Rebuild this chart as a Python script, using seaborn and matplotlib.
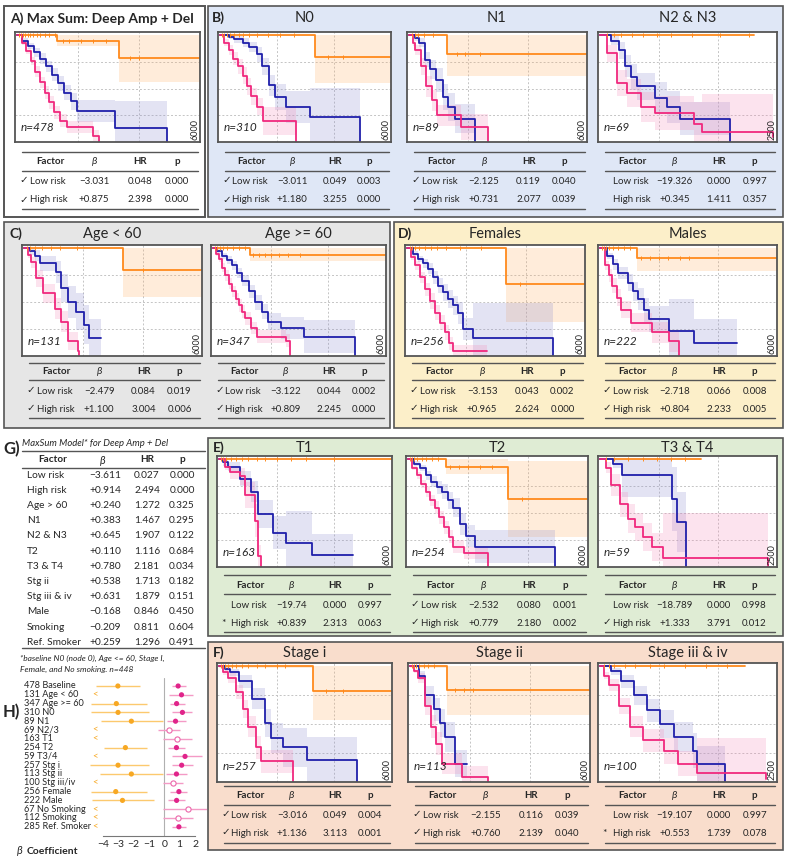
import numpy as np
import pandas as pd
import matplotlib
matplotlib.use('Agg')
import matplotlib.pyplot as plt
from matplotlib.patches import Rectangle
import seaborn as sns

sns.set_style('white')
plt.rcParams['font.family'] = ['Lato', 'DejaVu Sans']

W, H = 790, 865

# Kaplan-Meier curves: [time (days), survival, CI half width]
A_low = [[0, 1.0, 0.01], [1300, 0.95, 0.05], [3350, 0.79, 0.23], [6000, 0.79, 0.23]]
A_mid = [[0, 1.0, 0.0], [150, 0.95, 0.02], [350, 0.90, 0.03], [550, 0.84, 0.04], [750, 0.78, 0.05],
         [950, 0.71, 0.05], [1150, 0.63, 0.06], [1350, 0.55, 0.07], [1550, 0.46, 0.07],
         [1750, 0.38, 0.08], [1950, 0.29, 0.1], [3200, 0.13, 0.25], [4920, 0.0, 0.0]]
A_high = [[0, 1.0, 0.0], [150, 0.93, 0.02], [300, 0.85, 0.03], [450, 0.76, 0.04], [600, 0.66, 0.05],
          [750, 0.56, 0.05], [900, 0.46, 0.06], [1050, 0.37, 0.06], [1200, 0.28, 0.06],
          [1400, 0.20, 0.06], [1650, 0.14, 0.06], [2490, 0.06, 0.05], [2700, 0.0, 0.0]]
A_cens = [60, 120, 180, 260, 340, 420, 520, 640, 760, 900, 1050, 1250, 1500, 1700, 2100, 2500, 2900, 3700, 4000]

N0_low = [[0, 1.0, 0.01], [3340, 0.80, 0.25], [6000, 0.80, 0.25]]
N0_mid = [[0, 1.0, 0.0], [300, 0.98, 0.02], [500, 0.96, 0.03], [800, 0.93, 0.04], [1000, 0.89, 0.05],
          [1280, 0.82, 0.07], [1470, 0.71, 0.08], [1730, 0.53, 0.1], [1930, 0.42, 0.12],
          [2320, 0.33, 0.15], [3170, 0.23, 0.28], [4900, 0.0, 0.0]]
N0_high = [[0, 1.0, 0.0], [150, 0.93, 0.03], [300, 0.86, 0.05], [450, 0.78, 0.06], [630, 0.71, 0.07],
           [800, 0.62, 0.08], [950, 0.52, 0.08], [1100, 0.43, 0.08], [1280, 0.33, 0.08],
           [1510, 0.20, 0.13], [2650, 0.0, 0.0]]
N0_cens = [80, 150, 250, 350, 500, 650, 800, 1000, 1300, 1700, 2100, 2600, 3800, 4300]

N1_low = [[0, 1.0, 0.01], [1280, 0.82, 0.2], [6000, 0.82, 0.2]]
N1_mid = [[0, 1.0, 0.0], [200, 0.97, 0.02], [330, 0.93, 0.04], [520, 0.77, 0.07], [700, 0.68, 0.09],
          [890, 0.58, 0.11], [1130, 0.42, 0.12], [1320, 0.33, 0.13], [1560, 0.22, 0.14], [2220, 0.0, 0.0]]
N1_high = [[0, 1.0, 0.0], [120, 0.93, 0.03], [210, 0.86, 0.05], [400, 0.71, 0.08], [580, 0.52, 0.1],
           [760, 0.39, 0.1], [950, 0.25, 0.1], [1750, 0.14, 0.12], [2670, 0.0, 0.0]]
N1_cens = [100, 200, 300, 500, 800, 1600, 1900, 2400]

N23_low = [[0, 1.0, 0.0], [2170, 1.0, 0.0]]
N23_mid = [[0, 1.0, 0.0], [160, 0.95, 0.04], [270, 0.86, 0.08], [350, 0.71, 0.1], [435, 0.61, 0.12],
           [520, 0.52, 0.13], [770, 0.41, 0.15], [950, 0.33, 0.15], [1130, 0.22, 0.15], [1830, 0.0, 0.0]]
N23_high = [[0, 1.0, 0.0], [100, 0.83, 0.08], [240, 0.55, 0.12], [380, 0.46, 0.13], [575, 0.33, 0.14],
            [770, 0.27, 0.16], [1330, 0.17, 0.2], [1440, 0.09, 0.36], [2450, 0.05, 0.0]]
N23_cens = [100, 200, 300, 450, 600, 800, 1000, 1300, 1700, 2100]

C1_low = [[0, 1.0, 0.01], [3350, 0.80, 0.25], [6000, 0.80, 0.25]]
C1_mid = [[0, 1.0, 0.0], [200, 0.97, 0.03], [360, 0.93, 0.05], [525, 0.86, 0.07], [1080, 0.78, 0.1],
          [1250, 0.63, 0.13], [1475, 0.50, 0.15], [1750, 0.41, 0.17], [2030, 0.29, 0.18],
          [2200, 0.17, 0.17], [2590, 0.17, 0.0]]
C1_high = [[0, 1.0, 0.0], [120, 0.94, 0.03], [245, 0.87, 0.05], [410, 0.72, 0.08], [640, 0.58, 0.09],
           [1030, 0.44, 0.1], [1250, 0.32, 0.1], [1475, 0.14, 0.08], [1810, 0.05, 0.05], [1850, 0.0, 0.0]]
C1_cens = [100, 200, 350, 600, 900, 1200, 1800, 4000]

C2_low = [[0, 1.0, 0.01], [1290, 0.94, 0.06], [6000, 0.94, 0.06]]
C2_mid = [[0, 1.0, 0.0], [150, 0.97, 0.02], [320, 0.93, 0.03], [500, 0.89, 0.04], [660, 0.84, 0.04],
          [830, 0.77, 0.05], [1000, 0.70, 0.05], [1230, 0.60, 0.06], [1460, 0.50, 0.07],
          [1690, 0.41, 0.07], [1920, 0.32, 0.08], [2370, 0.26, 0.1], [3170, 0.18, 0.15], [4940, 0.0, 0.0]]
C2_high = [[0, 1.0, 0.0], [100, 0.95, 0.02], [205, 0.90, 0.03], [320, 0.82, 0.04], [430, 0.75, 0.05],
           [550, 0.67, 0.05], [660, 0.60, 0.05], [780, 0.53, 0.05], [890, 0.47, 0.06],
           [1000, 0.41, 0.06], [1120, 0.35, 0.06], [1300, 0.26, 0.06], [1520, 0.18, 0.06],
           [2540, 0.14, 0.06], [2660, 0.0, 0.0]]
C2_cens = [80, 150, 250, 350, 500, 700, 900, 1100, 1400, 1600, 1800, 2000, 2300, 2600, 3000]

D1_low = [[0, 1.0, 0.01], [3350, 0.67, 0.35], [6000, 0.67, 0.35]]
D1_mid = [[0, 1.0, 0.0], [200, 0.95, 0.02], [370, 0.90, 0.03], [540, 0.86, 0.04], [710, 0.81, 0.05],
          [880, 0.73, 0.06], [1050, 0.65, 0.07], [1220, 0.59, 0.08], [1385, 0.53, 0.08],
          [1550, 0.47, 0.09], [1720, 0.40, 0.1], [1890, 0.25, 0.1], [2230, 0.17, 0.32], [4930, 0.0, 0.0]]
D1_high = [[0, 1.0, 0.0], [130, 0.92, 0.03], [260, 0.84, 0.04], [430, 0.73, 0.05], [600, 0.62, 0.06],
           [770, 0.51, 0.07], [935, 0.40, 0.07], [1100, 0.31, 0.07], [1270, 0.22, 0.07],
           [1420, 0.12, 0.06], [1550, 0.05, 0.05], [2680, 0.05, 0.0]]
D1_cens = [80, 150, 250, 400, 600, 800, 1000, 1300, 1800, 2500, 3800]

D2_low = [[0, 1.0, 0.01], [1235, 0.91, 0.12], [6000, 0.91, 0.12]]
D2_mid = [[0, 1.0, 0.0], [235, 0.93, 0.03], [420, 0.85, 0.05], [590, 0.77, 0.06], [940, 0.68, 0.08],
          [1120, 0.60, 0.09], [1300, 0.53, 0.1], [1480, 0.43, 0.11], [1650, 0.34, 0.12],
          [2350, 0.23, 0.3], [3180, 0.12, 0.22], [4650, 0.12, 0.0]]
D2_high = [[0, 1.0, 0.0], [175, 0.84, 0.04], [290, 0.75, 0.06], [410, 0.65, 0.07], [560, 0.54, 0.08],
           [705, 0.43, 0.08], [1060, 0.31, 0.09], [1765, 0.22, 0.1], [2350, 0.14, 0.1], [2680, 0.0, 0.0]]
D2_cens = [60, 120, 200, 300, 450, 600, 800, 1000, 1400, 1700, 2000, 2300, 2700, 3000]

E1_low = [[0, 1.0, 0.0], [6000, 1.0, 0.0]]
E1_mid = [[0, 1.0, 0.0], [130, 0.97, 0.03], [320, 0.93, 0.04], [710, 0.82, 0.07], [1100, 0.70, 0.1],
          [1350, 0.49, 0.13], [1870, 0.32, 0.15], [2320, 0.22, 0.3], [3230, 0.11, 0.2], [4650, 0.11, 0.0]]
E1_high = [[0, 1.0, 0.0], [200, 0.93, 0.03], [390, 0.88, 0.06], [710, 0.84, 0.08], [900, 0.67, 0.12],
           [1230, 0.43, 0.15], [1350, 0.10, 0.1], [1450, 0.0, 0.0]]
E1_cens = [80, 150, 250, 400, 600, 800, 1000, 1300, 1600, 2000, 2500, 3000, 4000]

E2_low = [[0, 1.0, 0.01], [1250, 0.93, 0.07], [3320, 0.63, 0.35], [6000, 0.63, 0.35]]
E2_mid = [[0, 1.0, 0.0], [200, 0.96, 0.02], [400, 0.92, 0.03], [580, 0.85, 0.04], [770, 0.79, 0.05],
          [950, 0.74, 0.06], [1130, 0.70, 0.07], [1320, 0.62, 0.08], [1500, 0.55, 0.09],
          [1740, 0.40, 0.1], [1920, 0.29, 0.1], [2230, 0.19, 0.15], [4900, 0.0, 0.0]]
E2_high = [[0, 1.0, 0.0], [140, 0.92, 0.02], [280, 0.85, 0.03], [430, 0.77, 0.04], [585, 0.70, 0.05],
           [740, 0.62, 0.05], [890, 0.55, 0.06], [1040, 0.46, 0.06], [1190, 0.37, 0.06],
           [1350, 0.28, 0.06], [1500, 0.19, 0.06], [1860, 0.13, 0.06], [2650, 0.0, 0.0]]
E2_cens = [60, 120, 200, 300, 450, 600, 800, 1000, 1400, 1700, 2000, 2400, 2800, 3800]

E3_low = [[0, 1.0, 0.0], [1430, 1.0, 0.0]]
E3_mid = [[0, 1.0, 0.0], [180, 0.96, 0.04], [310, 0.85, 0.2], [1015, 0.63, 0.3], [1090, 0.42, 0.28],
          [1210, 0.0, 0.0]]
E3_high = [[0, 1.0, 0.0], [80, 0.92, 0.05], [155, 0.76, 0.1], [285, 0.58, 0.12], [390, 0.45, 0.13],
           [495, 0.37, 0.13], [600, 0.28, 0.13], [730, 0.19, 0.13], [885, 0.08, 0.42], [2370, 0.0, 0.0]]
E3_cens = [80, 200, 400, 600, 800, 1000, 1200]

F1_low = [[0, 1.0, 0.01], [3260, 0.79, 0.25], [6000, 0.79, 0.25]]
F1_mid = [[0, 1.0, 0.0], [200, 0.98, 0.02], [380, 0.95, 0.03], [700, 0.87, 0.06], [1150, 0.72, 0.09],
          [1600, 0.51, 0.12], [1790, 0.38, 0.13], [2230, 0.30, 0.17], [3060, 0.19, 0.2], [4790, 0.0, 0.0]]
F1_high = [[0, 1.0, 0.0], [150, 0.95, 0.02], [320, 0.90, 0.04], [575, 0.78, 0.06], [830, 0.63, 0.08],
           [1020, 0.48, 0.09], [1280, 0.30, 0.1], [1470, 0.18, 0.1], [2550, 0.0, 0.0]]
F1_cens = [60, 120, 200, 300, 450, 600, 800, 1000, 1300, 1600, 2000, 2300, 3700, 4300]

F2_low = [[0, 1.0, 0.01], [1230, 0.80, 0.22], [6000, 0.80, 0.22]]
F2_mid = [[0, 1.0, 0.0], [310, 0.92, 0.04], [490, 0.75, 0.08], [800, 0.63, 0.1], [990, 0.51, 0.12],
          [1170, 0.39, 0.13], [1480, 0.16, 0.12], [1910, 0.16, 0.0]]
F2_high = [[0, 1.0, 0.0], [120, 0.96, 0.02], [250, 0.90, 0.04], [490, 0.66, 0.08], [680, 0.48, 0.1],
           [860, 0.33, 0.1], [1050, 0.16, 0.09], [1725, 0.04, 0.1], [2590, 0.0, 0.0]]
F2_cens = [60, 120, 200, 300, 450, 600, 800, 1500, 1800, 2100]

F3_low = [[0, 1.0, 0.0], [2050, 1.0, 0.0]]
F3_mid = [[0, 1.0, 0.0], [160, 0.96, 0.03], [290, 0.87, 0.06], [475, 0.75, 0.08], [660, 0.62, 0.1],
          [850, 0.50, 0.12], [1050, 0.39, 0.13], [1315, 0.27, 0.15], [1370, 0.16, 0.15], [1760, 0.0, 0.0]]
F3_high = [[0, 1.0, 0.0], [60, 0.92, 0.03], [130, 0.84, 0.05], [265, 0.66, 0.07], [420, 0.48, 0.09],
           [610, 0.36, 0.1], [900, 0.27, 0.11], [1100, 0.16, 0.11], [1370, 0.08, 0.3], [2340, 0.03, 0.0]]
F3_cens = [60, 120, 200, 350, 500, 700, 900, 1200, 1500, 1800]

# Cox tables under each KM plot: mark, factor, beta, HR, p
A_tab = [["✓", "Low risk", "−3.031", "0.048", "0.000"], ["✓", "High risk", "+0.875", "2.398", "0.000"]]
N0_tab = [["✓", "Low risk", "−3.011", "0.049", "0.003"], ["✓", "High risk", "+1.180", "3.255", "0.000"]]
N1_tab = [["✓", "Low risk", "−2.125", "0.119", "0.040"], ["✓", "High risk", "+0.731", "2.077", "0.039"]]
N23_tab = [["", "Low risk", "−19.326", "0.000", "0.997"], ["", "High risk", "+0.345", "1.411", "0.357"]]
C1_tab = [["✓", "Low risk", "−2.479", "0.084", "0.019"], ["✓", "High risk", "+1.100", "3.004", "0.006"]]
C2_tab = [["✓", "Low risk", "−3.122", "0.044", "0.002"], ["✓", "High risk", "+0.809", "2.245", "0.000"]]
D1_tab = [["✓", "Low risk", "−3.153", "0.043", "0.002"], ["✓", "High risk", "+0.965", "2.624", "0.000"]]
D2_tab = [["✓", "Low risk", "−2.718", "0.066", "0.008"], ["✓", "High risk", "+0.804", "2.233", "0.005"]]
E1_tab = [["", "Low risk", "−19.74", "0.000", "0.997"], ["*", "High risk", "+0.839", "2.313", "0.063"]]
E2_tab = [["✓", "Low risk", "−2.532", "0.080", "0.001"], ["✓", "High risk", "+0.779", "2.180", "0.002"]]
E3_tab = [["", "Low risk", "−18.789", "0.000", "0.998"], ["✓", "High risk", "+1.333", "3.791", "0.012"]]
F1_tab = [["✓", "Low risk", "−3.016", "0.049", "0.004"], ["✓", "High risk", "+1.136", "3.113", "0.001"]]
F2_tab = [["✓", "Low risk", "−2.155", "0.116", "0.039"], ["✓", "High risk", "+0.760", "2.139", "0.040"]]
F3_tab = [["", "Low risk", "−19.107", "0.000", "0.997"], ["*", "High risk", "+0.553", "1.739", "0.078"]]

# G) full model table
g_factor = ["Low risk", "High risk", "Age > 60", "N1", "N2 & N3", "T2", "T3 & T4", "Stg ii",
            "Stg iii & iv", "Male", "Smoking", "Ref. Smoker"]
g_beta = ["−3.611", "+0.914", "+0.240", "+0.383", "+0.645", "+0.110", "+0.780", "+0.538",
          "+0.631", "−0.168", "−0.209", "+0.259"]
g_hr = ["0.027", "2.494", "1.272", "1.467", "1.907", "1.116", "2.181", "1.713", "1.879", "0.846", "0.811", "1.296"]
g_p = ["0.000", "0.000", "0.325", "0.295", "0.122", "0.684", "0.034", "0.182", "0.151", "0.450", "0.604", "0.491"]

# H) forest plot of beta coefficients
h_labels = ["478 Baseline", "131 Age < 60", "347 Age >= 60", "310 N0", "89 N1", "69 N2/3", "163 T1",
            "254 T2", "59 T3/4", "257 Stg i", "113 Stg ii", "100 Stg iii/iv", "256 Female", "222 Male",
            "67 No Smoking", "112 Smoking", "285 Ref. Smoker"]
low_beta = [-3.03, None, -3.13, -3.02, -2.15, None, None, -2.54, None, -3.02, -2.15, None, -3.17, -2.73, None, None, None]
low_lo = [-4.45, None, -4.8, -4.8, -4.15, None, None, -3.95, None, -4.85, -4.2, None, -4.8, -4.7, None, None, None]
low_hi = [-1.6, None, -1.15, -1.0, -0.07, None, None, -1.1, None, -1.0, -0.1, None, -1.15, -0.68, None, None, None]
high_beta = [0.9, 1.12, 0.8, 1.18, 0.73, 0.33, 0.84, 0.79, 1.35, 1.13, 0.79, 0.54, 0.95, 0.8, 1.52, 0.91, 0.95]
high_lo = [0.5, 0.32, 0.36, 0.47, 0.15, -0.4, -0.07, 0.25, 0.47, 0.47, 0.1, -0.07, 0.36, 0.25, -0.07, -0.07, 0.47]
high_hi = [1.4, 1.89, 1.35, 1.78, 1.41, 1.02, 1.78, 1.35, 2.44, 1.85, 1.5, 1.2, 1.5, 1.35, 2.87, 1.85, 1.41]
high_sig = [1, 1, 1, 1, 1, 0, 0, 1, 1, 1, 1, 0, 1, 1, 0, 0, 1]

ORANGE, BLUE, PINK = '#ff8a1c', '#2020aa', '#f0287e'
BANDS = ['#ffb066', '#8c8cd0', '#f48ab8']
EDGE = '#555555'

fig = plt.figure(figsize=(W / 100, H / 100), dpi=100)
bg = fig.add_axes([0, 0, 1, 1])
bg.set_xlim(0, W)
bg.set_ylim(H, 0)
bg.axis('off')


def px_axes(x0, x1, y0, y1):
    return fig.add_axes([x0 / W, 1 - y1 / H, (x1 - x0) / W, (y1 - y0) / H])


def box(x0, y0, x1, y1, fc, lw=1.2):
    bg.add_patch(Rectangle((x0, y0), x1 - x0, y1 - y0, facecolor=fc, edgecolor=EDGE, lw=lw))


def step_value(pts, t):
    ts = [p[0] for p in pts]
    i = np.searchsorted(ts, t, side='right') - 1
    return pts[max(i, 0)][1]


def draw_km(ax, curves, tmax, n, cens):
    for pts, col, bcol in zip(curves, [ORANGE, BLUE, PINK], BANDS):
        df = pd.DataFrame(pts, columns=['t', 's', 'w'])
        lo = np.clip(df.s - df.w, 0, 1.0)
        hi = np.clip(df.s + df.w, 0, 1.0)
        ax.fill_between(df.t, lo, hi, step='post', color=bcol, alpha=0.24, lw=0)
    for pts, col in zip(curves, [ORANGE, BLUE, PINK]):
        df = pd.DataFrame(pts, columns=['t', 's', 'w'])
        sns.lineplot(x=df.t.values, y=df.s.values, ax=ax, color=col, lw=1.3,
                     drawstyle='steps-post', estimator=None, sort=False, legend=False)
    cy = [step_value(curves[0], c) for c in cens]
    ax.plot(cens, cy, ls='none', marker='|', ms=3.5, mew=0.7, color=ORANGE)
    ax.set_xlim(-tmax * 0.012, tmax)
    ax.set_ylim(0, 1.03)
    ax.set_xticks([tmax / 3, 2 * tmax / 3])
    ax.set_yticks([0.25, 0.5, 0.75])
    ax.tick_params(length=0, labelbottom=False, labelleft=False)
    ax.grid(True, ls=(0, (2, 2)), color='#c4c4c4', lw=0.7)
    ax.set_xlabel('')
    ax.set_ylabel('')
    for sp in ax.spines.values():
        sp.set_color(EDGE)
        sp.set_linewidth(1.3)
    ax.text(0.03, 0.08, f"n={n}", transform=ax.transAxes, fontsize=8.5, style='italic',
            ha='left', va='bottom')
    ax.text(0.995, 0.02, str(tmax), transform=ax.transAxes, fontsize=6.5, rotation=90,
            ha='right', va='bottom')


def draw_table(x0, x1, ys, rows):
    ytop, yhead, yline, yr1, yr2, ybot = ys
    wd = x1 - x0
    for y in (ytop, yline, ybot):
        bg.plot([x0, x1], [y, y], color=EDGE, lw=1.0)
    cols = [0.16, 0.41, 0.67, 0.88]
    fs = 7
    bg.text(x0 + cols[0] * wd, yhead, "Factor", fontsize=fs, fontweight='bold', ha='center', va='center')
    bg.text(x0 + cols[1] * wd, yhead, "β", fontsize=fs + 0.5, style='italic', ha='center', va='center')
    bg.text(x0 + cols[2] * wd, yhead, "HR", fontsize=fs, fontweight='bold', ha='center', va='center')
    bg.text(x0 + cols[3] * wd, yhead, "p", fontsize=fs, fontweight='bold', ha='center', va='center')
    for row, y in zip(rows, (yr1, yr2)):
        mark, name, b, hr, p = row
        bg.text(x0 - 3, y, mark, fontsize=fs + 0.5, ha='left', va='center')
        bg.text(x0 + 0.045 * wd, y, name, fontsize=fs, ha='left', va='center')
        bg.text(x0 + cols[1] * wd, y, b, fontsize=fs, ha='center', va='center')
        bg.text(x0 + cols[2] * wd, y, hr, fontsize=fs, ha='center', va='center')
        bg.text(x0 + cols[3] * wd, y, p, fontsize=fs, ha='center', va='center')


# panel boxes
box(4, 6, 205, 217, 'white', lw=1.4)
box(208, 6, 783, 217, '#dfe7f6')
box(4, 222, 390, 428, '#e6e6e6')
box(394, 222, 783, 428, '#fcefc9')
box(208, 438, 783, 636, '#dfecd4')
box(208, 642, 783, 850, '#f9ddcc')

bg.text(10, 19, "A) Max Sum: Deep Amp + Del", fontsize=10, fontweight='bold', ha='left', va='center')
bg.text(212, 18, "B)", fontsize=10, fontweight='bold', ha='left', va='center')
bg.text(9, 234, "C)", fontsize=10, fontweight='bold', ha='left', va='center')
bg.text(398, 234, "D)", fontsize=10, fontweight='bold', ha='left', va='center')
bg.text(213, 448, "E)", fontsize=10, fontweight='bold', ha='left', va='center')
bg.text(213, 653, "F)", fontsize=10, fontweight='bold', ha='left', va='center')

row_y = {1: (32, 142, 18, (152, 162, 171, 181, 200, 209)),
         2: (245, 356, 234, (363, 372, 380, 391, 409, 418)),
         3: (456, 567, 448, (575, 586, 594, 605, 623, 632)),
         4: (663, 782, 653, (786, 796, 805, 815, 833, 843))}

panels = [
    ("", 15, 200, 1, (A_low, A_mid, A_high), 6000, 478, A_cens, A_tab),
    ("N0", 218, 391, 1, (N0_low, N0_mid, N0_high), 6000, 310, N0_cens, N0_tab),
    ("N1", 407, 587, 1, (N1_low, N1_mid, N1_high), 6000, 89, N1_cens, N1_tab),
    ("N2 & N3", 598, 777, 1, (N23_low, N23_mid, N23_high), 2500, 69, N23_cens, N23_tab),
    ("Age < 60", 22, 202, 2, (C1_low, C1_mid, C1_high), 6000, 131, C1_cens, C1_tab),
    ("Age >= 60", 211, 386, 2, (C2_low, C2_mid, C2_high), 6000, 347, C2_cens, C2_tab),
    ("Females", 405, 585, 2, (D1_low, D1_mid, D1_high), 6000, 256, D1_cens, D1_tab),
    ("Males", 598, 777, 2, (D2_low, D2_mid, D2_high), 6000, 222, D2_cens, D2_tab),
    ("T1", 217, 392, 3, (E1_low, E1_mid, E1_high), 6000, 163, E1_cens, E1_tab),
    ("T2", 406, 588, 3, (E2_low, E2_mid, E2_high), 6000, 254, E2_cens, E2_tab),
    ("T3 & T4", 598, 777, 3, (E3_low, E3_mid, E3_high), 2500, 59, E3_cens, E3_tab),
    ("Stage i", 217, 392, 4, (F1_low, F1_mid, F1_high), 6000, 257, F1_cens, F1_tab),
    ("Stage ii", 408, 590, 4, (F2_low, F2_mid, F2_high), 6000, 113, F2_cens, F2_tab),
    ("Stage iii & iv", 598, 777, 4, (F3_low, F3_mid, F3_high), 2500, 100, F3_cens, F3_tab),
]

for title, x0, x1, r, curves, tmax, n, cens, tab in panels:
    y0, y1, ty, tys = row_y[r]
    ax = px_axes(x0, x1, y0, y1)
    draw_km(ax, curves, tmax, n, cens)
    if title:
        bg.text((x0 + x1) / 2, ty, title, fontsize=10.5, ha='center', va='center')
    draw_table(x0 + 7, x1 - 2, tys, tab)

# G) table
bg.text(3, 449, "G)", fontsize=12, fontweight='bold', ha='left', va='center')
bg.text(22, 443, "MaxSum Model* for Deep Amp + Del", fontsize=6.8, style='italic', ha='left', va='center')
for y in (451, 468, 648):
    bg.plot([22, 205], [y, y], color=EDGE, lw=1.0)
bg.text(53, 460, "Factor", fontsize=7.2, fontweight='bold', ha='center', va='center')
bg.text(103, 460, "β", fontsize=7.8, style='italic', ha='center', va='center')
bg.text(147, 460, "HR", fontsize=7.2, fontweight='bold', ha='center', va='center')
bg.text(182, 460, "p", fontsize=7.2, fontweight='bold', ha='center', va='center')
for i, (f, b, hr, p) in enumerate(zip(g_factor, g_beta, g_hr, g_p)):
    y = 475 + 15.2 * i
    bg.text(27, y, f, fontsize=7.3, ha='left', va='center')
    bg.text(105, y, b, fontsize=7.3, ha='center', va='center')
    bg.text(147, y, hr, fontsize=7.3, ha='center', va='center')
    bg.text(182, y, p, fontsize=7.3, ha='center', va='center')
bg.text(20, 658, "*baseline N0 (node 0), Age <= 60, Stage I,", fontsize=6, style='italic', ha='left', va='center')
bg.text(20, 669, "Female, and No smoking. n=448", fontsize=6, style='italic', ha='left', va='center')

# H) forest plot
bg.text(3, 712, "H)", fontsize=12, fontweight='bold', ha='left', va='center')
row0, drow = 686, 8.8
for i, lab in enumerate(h_labels):
    bg.text(24, row0 + drow * i, lab, fontsize=6.6, ha='left', va='center')

hx0, hx1, hy0, hy1 = 88, 207, 678, 836
ppu = 15.33
hax = px_axes(hx0, hx1, hy0, hy1)
hax.set_xlim(-4 - (103 - hx0) / ppu, 2 + (hx1 - 195) / ppu)
hax.set_ylim((hy1 - row0) / drow, (hy0 - row0) / drow)
hax.patch.set_alpha(0)
hax.axvline(0, color='#b0b0b0', lw=0.8)

rows = np.arange(len(h_labels))
lo_df = pd.DataFrame({'row': rows, 'b': low_beta, 'lo': low_lo, 'hi': low_hi}).astype(float)
hi_df = pd.DataFrame({'row': rows, 'b': high_beta, 'lo': high_lo, 'hi': high_hi, 'sig': high_sig})

ok = lo_df.dropna()
hax.hlines(ok.row, ok.lo, ok.hi, color='#fcc96e', lw=1.0)
sns.scatterplot(data=ok, x='b', y='row', ax=hax, color='#f7a823', s=14, edgecolor='none', zorder=3)
for r in lo_df[lo_df.b.isna()].row:
    hax.text(-4.52, r, "<", color='#f7a823', fontsize=7, ha='center', va='center')

hax.hlines(hi_df.row, hi_df.lo, hi_df.hi, color='#f49ac6', lw=1.0)
sig = hi_df[hi_df.sig == 1]
nsig = hi_df[hi_df.sig == 0]
sns.scatterplot(data=sig, x='b', y='row', ax=hax, color='#e0248a', s=14, edgecolor='none', zorder=3)
sns.scatterplot(data=nsig, x='b', y='row', ax=hax, facecolor='white', edgecolor='#ec66aa',
                s=14, linewidth=0.8, zorder=3)

for s in ['top', 'right', 'left']:
    hax.spines[s].set_visible(False)
hax.spines['bottom'].set_bounds(-4, 2)
hax.spines['bottom'].set_color('#777777')
hax.set_yticks([])
hax.set_xticks(range(-4, 3))
hax.set_xticklabels(["−4", "−3", "−2", "−1", "0", "1", "2"])
hax.tick_params(axis='x', direction='in', length=4, color='#777777', labelsize=7.5, pad=3)
hax.set_xlabel('')
hax.set_ylabel('')

bg.text(17, 851, "β", fontsize=8, style='italic', ha='left', va='center')
bg.text(27, 851, "Coefficient", fontsize=7.5, fontweight='bold', ha='left', va='center')

fig.savefig('out.png', dpi=100)
